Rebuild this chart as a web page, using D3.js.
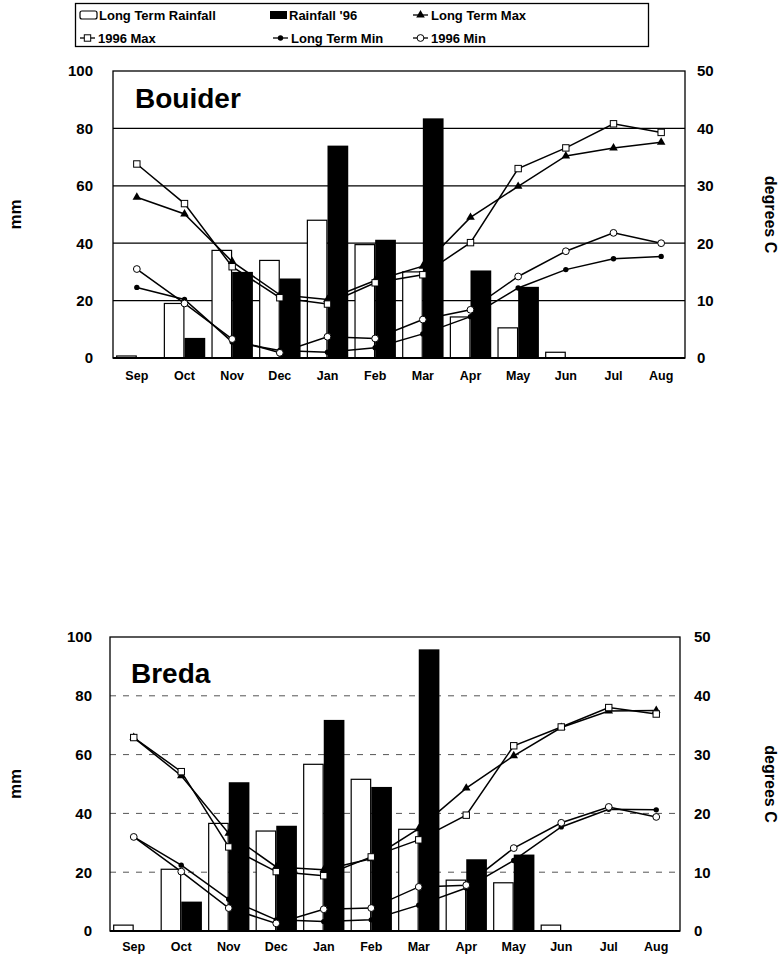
<!DOCTYPE html>
<html><head><meta charset="utf-8">
<script src="https://cdn.jsdelivr.net/npm/d3@7"></script>
<style>
html,body{margin:0;padding:0;background:#fff;}
svg text{font-family:"Liberation Sans",Arial,Helvetica,sans-serif;font-weight:bold;fill:#000;}
</style></head>
<body>
<svg id="c" width="782" height="957"></svg>
<script>
const months = ["Sep","Oct","Nov","Dec","Jan","Feb","Mar","Apr","May","Jun","Jul","Aug"];
const mmTicks = [0,20,40,60,80,100];
const degTicks = [0,10,20,30,40,50];

// Bouider
const bLtRain = [0.7, 19, 37.5, 34, 48, 39.5, 30, 14.3, 10.5, 2, 0, 0];
const bRain96 = [0, 7, 30, 27.7, 74, 41.2, 83.5, 30.5, 24.8, null, null, null];
const bLtMax  = [28, 25.1, 16.8, 11, 10.2, 13.5, 16, 24.5, 29.9, 35.2, 36.6, 37.6];
const bMax96  = [33.8, 26.9, 15.9, 10.5, 9.4, 13.1, 14.5, 20.1, 33, 36.6, 40.8, 39.3];
const bLtMin  = [12.3, 10.2, 2.8, 1.3, 1.0, 1.8, 4.2, 7.2, 12.2, 15.4, 17.3, 17.7];
const bMin96  = [15.5, 9.5, 3.3, 0.9, 3.7, 3.4, 6.7, 8.4, 14.2, 18.6, 21.8, 20.0];

// Breda
const rLtRain = [2, 21, 36.6, 34, 56.7, 51.6, 34.6, 17.3, 16.4, 2, 0, 0];
const rRain96 = [0, 10, 50.6, 35.8, 71.8, 49, 95.8, 24.4, 26, null, null, null];
const rLtMax  = [32.9, 26.4, 16.6, 10.9, 10.4, 12.3, 17.4, 24.3, 29.8, 34.6, 37.4, 37.5];
const rMax96  = [32.9, 27.1, 14.3, 10.1, 9.4, 12.6, 15.5, 19.7, 31.5, 34.7, 38.0, 36.9];
const rLtMin  = [16, 11.2, 5.4, 1.9, 1.6, 1.9, 4.4, 7.3, 12, 17.7, 20.7, 20.6];
const rMin96  = [16, 10.1, 3.9, 1.3, 3.7, 3.9, 7.5, 7.8, 14.1, 18.4, 21.1, 19.4];

const legendItems = [
  {name:"Long Term Rainfall", kind:"openbar"},
  {name:"Rainfall '96", kind:"bar"},
  {name:"Long Term Max", kind:"tri"},
  {name:"1996 Max", kind:"square"},
  {name:"Long Term Min", kind:"dot"},
  {name:"1996 Min", kind:"circle"}
];

const svg = d3.select("#c");

function marker(g, kind, x, y){
  if(kind==="tri"){
    g.append("path").attr("d", d3.symbol(d3.symbolTriangle, 32)()).attr("transform",`translate(${x},${y})`).attr("fill","#000");
  } else if(kind==="square"){
    g.append("rect").attr("x",x-3.2).attr("y",y-3.2).attr("width",6.4).attr("height",6.4).attr("fill","#fff").attr("stroke","#000").attr("stroke-width",1);
  } else if(kind==="dot"){
    g.append("circle").attr("cx",x).attr("cy",y).attr("r",2.7).attr("fill","#000");
  } else if(kind==="circle"){
    g.append("circle").attr("cx",x).attr("cy",y).attr("r",3.4).attr("fill","#fff").attr("stroke","#000").attr("stroke-width",1);
  }
}

function drawChart(cfg){
  const {left,right,top,bottom,title,titleX,titleY,ltRain,rain96,series,dashed,lPad,rPad,labelY} = cfg;
  const g = svg.append("g");
  const yL = d3.scaleLinear().domain([0,100]).range([bottom,top]);
  const yR = d3.scaleLinear().domain([0,50]).range([bottom,top]);
  const x0 = d3.scaleBand().domain(months).range([left,right]).paddingInner(0.13).paddingOuter(0.065);
  const x1 = d3.scaleBand().domain(["lt","96"]).range([0,x0.bandwidth()]);

  // gridlines
  g.append("g").selectAll("line").data([20,40,60,80]).join("line")
    .attr("x1",left).attr("x2",right).attr("y1",d=>yL(d)).attr("y2",d=>yL(d))
    .attr("stroke", dashed ? "#555" : "#000")
    .attr("stroke-width", dashed ? 1 : 1.2)
    .attr("stroke-dasharray", dashed ? "6,7" : null);

  // bars
  const bars = g.append("g");
  months.forEach((m,i)=>{
    if(ltRain[i]!=null && ltRain[i]>0){
      bars.append("rect").attr("x",x0(m)+x1("lt")+0.6).attr("y",yL(ltRain[i]))
        .attr("width",x1.bandwidth()-1.2).attr("height",yL(0)-yL(ltRain[i]))
        .attr("fill","#fff").attr("stroke","#000").attr("stroke-width",1.2);
    }
    if(rain96[i]!=null && rain96[i]>0){
      bars.append("rect").attr("x",x0(m)+x1("96")).attr("y",yL(rain96[i]))
        .attr("width",x1.bandwidth()).attr("height",yL(0)-yL(rain96[i]))
        .attr("fill","#000");
    }
  });

  // lines
  const cx = m => x0(m) + x0.bandwidth()/2;
  const line = d3.line().x((d,i)=>cx(months[i])).y(d=>yR(d));
  series.forEach(s=>{
    const lg = g.append("g");
    lg.append("path").attr("d",line(s.values)).attr("fill","none").attr("stroke","#000").attr("stroke-width",1.5);
    s.values.forEach((v,i)=>marker(lg, s.kind, cx(months[i]), yR(v)));
  });

  // frame
  g.append("rect").attr("x",left).attr("y",top).attr("width",right-left).attr("height",bottom-top)
    .attr("fill","none").attr("stroke","#000").attr("stroke-width",1.3);
  g.append("line").attr("x1",left).attr("x2",right).attr("y1",bottom).attr("y2",bottom).attr("stroke","#000").attr("stroke-width",2.2);

  // axes
  const aL = g.append("g").attr("transform",`translate(${left},0)`)
    .call(d3.axisLeft(yL).tickValues(mmTicks).tickSize(0).tickPadding(lPad));
  aL.select(".domain").remove();
  aL.selectAll("text").attr("font-size","15px").style("font-family","Liberation Sans,Arial,sans-serif").style("font-weight","bold");
  const aR = g.append("g").attr("transform",`translate(${right},0)`)
    .call(d3.axisRight(yR).tickValues(degTicks).tickSize(0).tickPadding(rPad));
  aR.select(".domain").remove();
  aR.selectAll("text").attr("font-size","15px").style("font-family","Liberation Sans,Arial,sans-serif").style("font-weight","bold");
  const aB = g.append("g").attr("transform",`translate(0,${bottom})`)
    .call(d3.axisBottom(x0).tickSize(0).tickPadding(labelY));
  aB.select(".domain").remove();
  aB.selectAll("text").attr("font-size","12.5px").style("font-family","Liberation Sans,Arial,sans-serif").style("font-weight","bold");

  // title
  g.append("text").attr("x",titleX).attr("y",titleY).attr("font-size","28px").text(title);

  // axis titles
  const midY = (top+bottom)/2;
  g.append("text").attr("transform",`translate(21,${midY}) rotate(-90)`).attr("text-anchor","middle")
    .attr("font-size","17px").text("mm");
  g.append("text").attr("transform",`translate(765,${midY}) rotate(90)`).attr("text-anchor","middle")
    .attr("font-size","16px").text("degrees C");
}

drawChart({left:113,right:685,top:71,bottom:358,title:"Bouider",titleX:135,titleY:108,
  ltRain:bLtRain,rain96:bRain96,dashed:false,lPad:20,rPad:12,labelY:13,
  series:[{kind:"tri",values:bLtMax},{kind:"square",values:bMax96},{kind:"dot",values:bLtMin},{kind:"circle",values:bMin96}]});

drawChart({left:110,right:680,top:637,bottom:931,title:"Breda",titleX:131,titleY:683,
  ltRain:rLtRain,rain96:rRain96,dashed:true,lPad:18,rPad:14,labelY:11,
  series:[{kind:"tri",values:rLtMax},{kind:"square",values:rMax96},{kind:"dot",values:rLtMin},{kind:"circle",values:rMin96}]});

// legend
const lg = svg.append("g");
lg.append("rect").attr("x",75.5).attr("y",3.5).attr("width",573).attr("height",43).attr("fill","#fff").attr("stroke","#000").attr("stroke-width",1.3);
const pos = [[80,15],[270,15],[413,15],[80,38],[273,38],[413,38]];
legendItems.forEach((it,i)=>{
  const [x,y] = pos[i];
  let tx;
  if(it.kind==="openbar"){
    lg.append("rect").attr("x",x).attr("y",y-4).attr("width",17).attr("height",8).attr("rx",2).attr("fill","#fff").attr("stroke","#000").attr("stroke-width",1.2);
    tx = x+19;
  } else if(it.kind==="bar"){
    lg.append("rect").attr("x",x).attr("y",y-4).attr("width",17).attr("height",8).attr("fill","#000");
    tx = x+19;
  } else {
    lg.append("line").attr("x1",x).attr("x2",x+15).attr("y1",y).attr("y2",y).attr("stroke","#000").attr("stroke-width",1.3);
    marker(lg, it.kind, x+7.5, y);
    tx = x+18;
  }
  lg.append("text").attr("x",tx).attr("y",y+4.5).attr("font-size","13px").text(it.name);
});
</script>
</body></html>
